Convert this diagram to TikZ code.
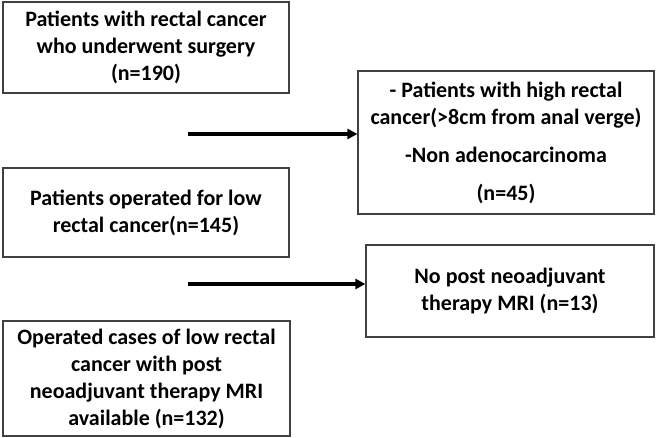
\documentclass[tikz,border=0pt]{standalone}
\usepackage{fontspec}
\setmainfont{Carlito}
\usetikzlibrary{positioning,arrows.meta}
\tikzset{flowbox/.style={draw=black!75,line width=1.2pt,rectangle,align=center,inner sep=0pt,
  font=\fontsize{22}{27}\selectfont\bfseries},
  flowarrow/.style={-{Triangle[length=10pt,width=10pt]},line width=3.5pt}}
\begin{document}
\begin{tikzpicture}[x=1pt,y=-1pt]
  \useasboundingbox (0,0) rectangle (657,438);
  \node[flowbox,minimum width=286pt,minimum height=91pt] (all) at (146,47.5) {Patients with rectal cancer\\who underwent surgery\\(n=190)};
  \node[flowbox,minimum width=286pt,minimum height=89pt] (low) at (146,212.5) {Patients operated for low\\rectal cancer(n=145)};
  \node[flowbox,minimum width=287pt,minimum height=115pt] (mri) at (146.5,378.5) {Operated cases of low rectal\\cancer with post\\neoadjuvant therapy MRI\\available (n=132)};
  \node[flowbox,minimum width=296pt,minimum height=143pt] (excl1) at (506,142.5) {- Patients with high rectal\\cancer(>8cm from anal verge)\\[11pt]-Non adenocarcinoma\\[11pt](n=45)};
  \node[flowbox,minimum width=288pt,minimum height=92pt] (excl2) at (510,291) {No post neoadjuvant\\therapy MRI (n=13)};

  \coordinate (s1) at (188,134);
  \coordinate (s2) at (188,284);
  \draw[flowarrow] (s1) -- (s1 -| excl1.west);
  \draw[flowarrow] (s2) -- (s2 -| excl2.west);
\end{tikzpicture}
\end{document}
